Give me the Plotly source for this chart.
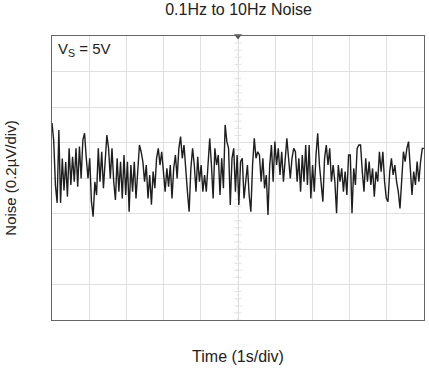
import numpy as np
import plotly.graph_objects as go

noise_uV = [
    # 0 - 1.6 s
    0.31, 0.21, -0.04, -0.14, 0.27, -0.14, 0.11, -0.07, 0.09, -0.105, 0.167, -0.039,
    0.12, -0.021, 0.167, -0.049, 0.177, -0.002, 0.214, 0.252, 0.111, -0.002, 0.111,
    -0.133, -0.218, -0.021, -0.096, 0.167, -0.021, 0.148, -0.058, 0.073,
    # 1.6 - 3.3 s
    0.242, 0.167, -0.002, 0.167, -0.021, -0.124, 0.111, -0.077, 0.092, -0.115, 0.130,
    -0.096, 0.092, -0.190, 0.073, -0.077, 0.092, -0.115, 0.073, 0.186, 0.148, 0.092,
    -0.021, 0.073, -0.115, 0.017, -0.15, 0.036, -0.058, 0.111, 0.167, 0.073, 0.148,
    # 3.3 - 5.0 s
    0.036, -0.077, 0.054, -0.049, 0.073, -0.115, 0.054, 0.130, -0.002, 0.167, 0.233,
    0.111, 0.186, 0.036, -0.077, -0.190, 0.054, 0.167, 0.073, -0.077, 0.120, -0.021,
    0.073, -0.077, 0.017, -0.077, 0.054, 0.223, 0.073, -0.115, 0.167, 0.073, 0.130,
    -0.096, 0.111, -0.058, 0.299, 0.205,
    # 5.0 - 6.7 s
    0.167, -0.152, 0.111, 0.167, -0.077, 0.130, -0.152, 0.092, 0.111, -0.115, -0.021,
    0.073, -0.096, -0.190, 0.073, 0.223, 0.111, 0.148, 0.130, -0.021, 0.111, -0.058,
    0.017, -0.208, 0.073, 0.186, -0.021, 0.205, 0.073, 0.167, 0.017, 0.148, -0.021,
    0.130, 0.223, 0.111, -0.002, 0.111, 0.167,
    # 6.7 - 8.3 s
    0.148, -0.021, 0.111, -0.077, 0.130, -0.021, 0.186, -0.039, 0.186, -0.115, 0.073,
    -0.077, 0.130, 0.252, 0.073, -0.039, -0.133, 0.111, 0.186, 0.073, 0.167, -0.021,
    0.073, -0.021, -0.199, 0.073, -0.021, 0.054, -0.077, 0.036, -0.096, 0.130, 0.130,
    -0.199, 0.054, -0.039, 0.167, 0.186,
    # 8.3 - 10 s
    0.186, 0.036, -0.077, 0.111, -0.021, 0.092, -0.039, 0.054, -0.105, 0.036, -0.021,
    0.148, 0.036, 0.148, -0.021, -0.115, -0.133, 0.036, 0.111, 0.017, 0.073, -0.021,
    -0.077, -0.171, 0.017, 0.148, 0.092, 0.167, 0.205, 0.073, -0.096, 0.036, -0.039,
    0.092, -0.021, 0.092, 0.167, 0.167,
]
time_s = np.linspace(0, 10, len(noise_uV))

x_range = [0, 10]          # 10 divisions of 1 s
y_range = [-0.8, 0.8]      # 8 divisions of 0.2 uV
x_div = 1
y_div = 0.2

title_text = "0.1Hz to 10Hz Noise"
x_title = "Time (1s/div)"
y_title = "Noise (0.2µV/div)"
note_text = "V<sub>S</sub> = 5V"

FONT = "Liberation Sans, Arial, sans-serif"

fig = go.Figure()

# center graticule axis with small ticks
cx = (x_range[0] + x_range[1]) / 2
fig.add_shape(type="line", x0=cx, x1=cx, y0=y_range[0], y1=y_range[1],
              line=dict(color="#e4e4e4", width=1, dash="dot"), layer="below")
tick_y = np.arange(y_range[0], y_range[1] + 1e-9, y_div / 5)
fig.add_trace(go.Scatter(x=[cx] * len(tick_y), y=tick_y, mode="markers",
                         marker=dict(symbol="line-ew", size=5,
                                     line=dict(color="#e2e2e2", width=1)),
                         hoverinfo="skip", showlegend=False))

fig.add_trace(go.Scatter(x=time_s, y=noise_uV, mode="lines",
                         line=dict(color="#1e1e1e", width=1.4),
                         showlegend=False))

# trigger marker at top
fig.add_trace(go.Scatter(x=[cx], y=[y_range[1]], mode="markers",
                         marker=dict(symbol="triangle-down", size=7, color="#555555"),
                         cliponaxis=False, showlegend=False, hoverinfo="skip"))

fig.add_annotation(x=0, y=1, xref="paper", yref="paper", xanchor="left",
                   yanchor="top", xshift=4, yshift=-2, showarrow=False,
                   text=note_text, font=dict(family=FONT, size=15, color="#222222"))

fig.update_layout(
    width=429, height=374,
    margin=dict(l=52, r=5, t=36, b=54, autoexpand=False),
    paper_bgcolor="white", plot_bgcolor="white",
    title=dict(text=title_text, x=0.556, xanchor="center", y=0.974, yanchor="middle",
               font=dict(family=FONT, size=16, color="#222222")),
    font=dict(family=FONT, color="#222222"),
)
fig.update_xaxes(range=x_range, dtick=x_div, tick0=0, showticklabels=False,
                 ticks="", showgrid=True, gridcolor="#e0e0e0", gridwidth=1,
                 zeroline=False, showline=True, linecolor="#666666", linewidth=1,
                 mirror=True, automargin=False,
                 title=dict(text=x_title, standoff=30,
                            font=dict(family=FONT, size=16, color="#222222")))
fig.update_yaxes(range=y_range, dtick=y_div, tick0=y_range[0], showticklabels=False,
                 ticks="", showgrid=True, gridcolor="#e0e0e0", gridwidth=1,
                 zeroline=False, showline=True, linecolor="#666666", linewidth=1,
                 mirror=True, automargin=False,
                 title=dict(text=y_title, standoff=30,
                            font=dict(family=FONT, size=15, color="#222222")))

fig.write_html("out.html", config={"displayModeBar": False},
               post_script="document.body.style.margin='0';")
